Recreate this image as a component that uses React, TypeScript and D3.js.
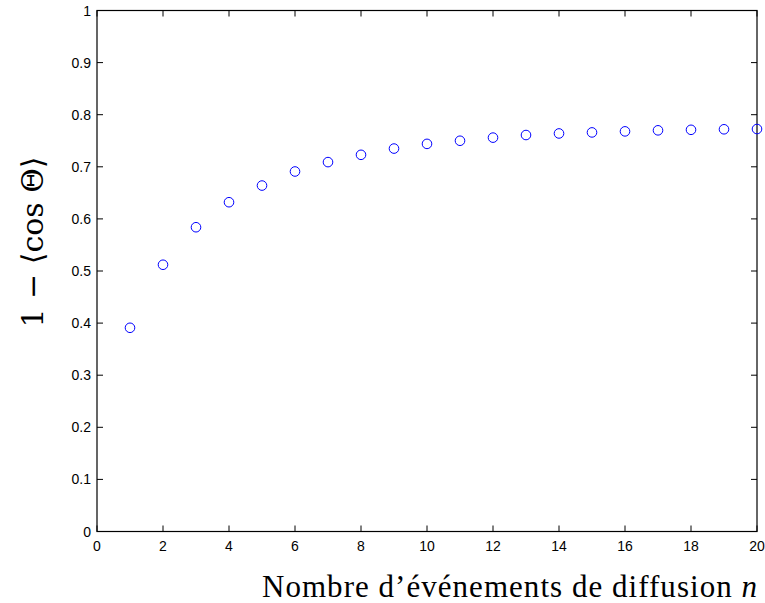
import React, { useEffect, useRef } from "react";
import * as d3 from "d3";

const nValues: number[] = [1, 2, 3, 4, 5, 6, 7, 8, 9, 10, 11, 12, 13, 14, 15, 16, 17, 18, 19, 20];
const meanValues: number[] = [0.391, 0.512, 0.584, 0.632, 0.664, 0.691, 0.709, 0.723, 0.735, 0.744, 0.750, 0.756, 0.761, 0.764, 0.766, 0.768, 0.770, 0.771, 0.772, 0.7725];
const xTicks: number[] = [0, 2, 4, 6, 8, 10, 12, 14, 16, 18, 20];
const yTicks: number[] = [0, 0.1, 0.2, 0.3, 0.4, 0.5, 0.6, 0.7, 0.8, 0.9, 1];

const W = 765;
const H = 603;
const M = { left: 97, right: 8, top: 10.5, bottom: 71.5 };

export default function App() {
  const ref = useRef<SVGSVGElement>(null);
  useEffect(() => {
    const svg = d3.select(ref.current);
    svg.selectAll("*").remove();
    const x = d3.scaleLinear().domain([0, 20]).range([M.left, W - M.right]);
    const y = d3.scaleLinear().domain([0, 1]).range([H - M.bottom, M.top]);
    const tickFont = "'Liberation Sans', Arial, sans-serif";
    const tl = 6;

    const g = svg.append("g");
    xTicks.forEach((t) => {
      g.append("line").attr("x1", x(t)).attr("x2", x(t)).attr("y1", y(0)).attr("y2", y(0) - tl).attr("stroke", "#000").attr("stroke-width", 1);
      g.append("line").attr("x1", x(t)).attr("x2", x(t)).attr("y1", y(1)).attr("y2", y(1) + tl).attr("stroke", "#000").attr("stroke-width", 1);
      g.append("text").attr("x", x(t)).attr("y", y(0) + 19).attr("text-anchor", "middle")
        .attr("font-family", tickFont).attr("font-size", 14).text(String(t));
    });
    yTicks.forEach((t) => {
      g.append("line").attr("x1", x(0)).attr("x2", x(0) + tl).attr("y1", y(t)).attr("y2", y(t)).attr("stroke", "#000").attr("stroke-width", 1);
      g.append("line").attr("x1", x(20)).attr("x2", x(20) - tl).attr("y1", y(t)).attr("y2", y(t)).attr("stroke", "#000").attr("stroke-width", 1);
      g.append("text").attr("x", x(0) - 6).attr("y", y(t) + 5).attr("text-anchor", "end")
        .attr("font-family", tickFont).attr("font-size", 14).text(String(t));
    });
    g.append("rect").attr("x", x(0)).attr("y", y(1)).attr("width", x(20) - x(0)).attr("height", y(0) - y(1))
      .attr("fill", "none").attr("stroke", "#000").attr("stroke-width", 1.2);

    g.selectAll("circle.pt").data(nValues).enter().append("circle")
      .attr("class", "pt")
      .attr("cx", (d) => x(d))
      .attr("cy", (d, i) => y(meanValues[i]))
      .attr("r", 4.8)
      .attr("fill", "none")
      .attr("stroke", "#0000ff")
      .attr("stroke-width", 1);

    const serif = "'Liberation Serif', 'DejaVu Serif', serif";
    const xl = svg.append("text").attr("x", 757).attr("y", 597).attr("text-anchor", "end")
      .attr("font-family", serif).attr("font-size", 31)
      .attr("textLength", 495).attr("lengthAdjust", "spacing");
    xl.append("tspan").text("Nombre d\u2019événements de diffusion ");
    xl.append("tspan").attr("font-style", "italic").text("n");

    const ser2 = "'DejaVu Serif', serif";
    const yl = svg.append("text").attr("transform", `translate(43,242) rotate(-90)`).attr("text-anchor", "middle")
      .attr("font-size", 30);
    yl.append("tspan").attr("font-family", ser2).text("1 \u2212 ");
    yl.append("tspan").attr("font-family", "'DejaVu Sans', sans-serif").text("\u27E8");
    yl.append("tspan").attr("font-family", ser2).text("cos \u0398");
    yl.append("tspan").attr("font-family", "'DejaVu Sans', sans-serif").text("\u27E9");
  }, []);
  return (
    <svg ref={ref} width={W} height={H} style={{ position: "absolute", left: 0, top: 0, background: "#fff" }} />
  );
}
